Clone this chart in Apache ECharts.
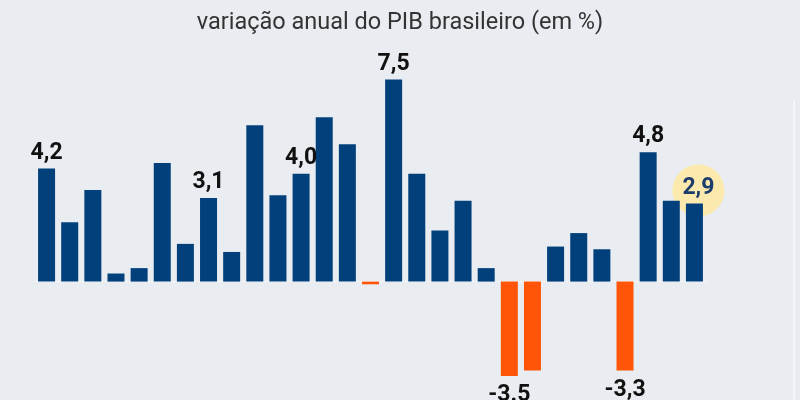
<!DOCTYPE html>
<html>
<head>
<meta charset="utf-8">
<script src="https://cdn.jsdelivr.net/npm/echarts@6/dist/echarts.min.js"></script>
<style>
html,body{margin:0;padding:0;background:#e9edf1;}
#c{width:800px;height:400px;}
</style>
</head>
<body>
<div id="c"></div>
<script>
const years = ['1995','1996','1997','1998','1999','2000','2001','2002','2003','2004','2005','2006','2007','2008','2009','2010','2011','2012','2013','2014','2015','2016','2017','2018','2019','2020','2021','2022','2023'];
const growth = [4.2,2.2,3.4,0.3,0.5,4.4,1.4,3.1,1.1,5.8,3.2,4.0,6.1,5.1,-0.1,7.5,4.0,1.9,3.0,0.5,-3.5,-3.3,1.3,1.8,1.2,-3.3,4.8,3.0,2.9];
const labelledYears = ['1995','2002','2006','2010','2015','2020','2021','2023'];
const labelTexts = {'1995':'4,2','2002':'3,1','2006':'4,0','2010':'7,5','2015':'-3.5','2020':'-3,3','2021':'4,8','2023':'2,9'};
const highlightYear = '2023';
const subtitle = 'variação anual do PIB brasileiro (em %)';

const BLUE = '#02407c', ORANGE = '#fe5508', YELLOW = '#fce9ad';

const barData = years.map((y, i) => {
  const v = growth[i];
  const item = { value: v, itemStyle: { color: v < 0 ? ORANGE : BLUE } };
  if (labelledYears.includes(y)) {
    const hl = y === highlightYear;
    item.label = {
      show: true,
      position: v < 0 ? 'bottom' : 'top',
      distance: v < 0 ? 8 : 4,
      formatter: labelTexts[y],
      color: hl ? '#1c3c6c' : '#111',
      fontSize: 23,
      fontWeight: 'bold',
      fontFamily: 'Roboto',
      offset: hl ? [4, 0] : [0, 0]
    };
  }
  return item;
});

const chart = echarts.init(document.getElementById('c'), null, { renderer: 'canvas' });
chart.setOption({
  backgroundColor: '#e9edf1',
  animation: false,
  title: {
    text: subtitle,
    left: 'center',
    top: 6,
    textStyle: { fontFamily: 'Roboto', fontSize: 23.5, fontWeight: 'normal', color: '#333333' }
  },
  grid: { left: 35, right: 94, top: 66, height: 323.4 },
  xAxis: {
    type: 'category',
    data: years,
    axisLine: { show: true, lineStyle: { color: '#f4f6f8', width: 1 } },
    axisTick: { show: false },
    axisLabel: { show: false },
    splitLine: { show: false }
  },
  yAxis: {
    type: 'value',
    min: -4, max: 8, interval: 2,
    axisLine: { show: false }, axisTick: { show: false }, axisLabel: { show: false },
    splitLine: { show: false }
  },
  graphic: [{
    type: 'line', shape: { x1: 794, y1: 100, x2: 794, y2: 400 },
    style: { stroke: '#f3f5f7', lineWidth: 2 }, silent: true
  }],
  series: [
    {
      type: 'scatter',
      z: 1,
      symbol: 'circle',
      symbolSize: 52,
      symbolOffset: [4, -13],
      itemStyle: { color: YELLOW, opacity: 1 },
      data: [[highlightYear, growth[years.indexOf(highlightYear)]]],
      silent: true
    },
    {
      type: 'bar',
      z: 2,
      barWidth: 17,
      data: barData
    }
  ]
});
</script>
</body>
</html>
